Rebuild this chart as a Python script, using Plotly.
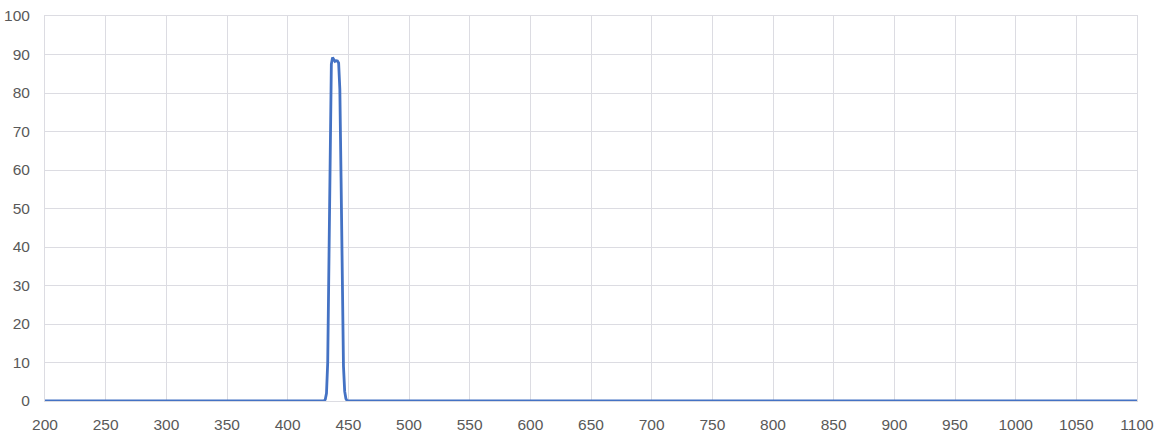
import plotly.graph_objects as go

# Transmission curve (nm vs %)
wavelength = [200, 300, 400, 428, 430, 431, 432, 433, 434, 435, 436, 437, 438, 439,
              440, 441, 442, 443, 444, 445, 446, 447, 448, 449, 451, 500, 700, 900, 1100]
transmission = [0, 0, 0, 0, 0, 0.4, 2, 10, 38, 74, 87.5, 89.2, 88.8, 88.2,
                88.4, 88.3, 87.8, 81, 58, 28, 9, 2.5, 0.6, 0.1, 0, 0, 0, 0, 0]

x_ticks = list(range(200, 1101, 50))
y_ticks = list(range(0, 101, 10))

fig = go.Figure()
fig.add_trace(go.Scatter(
    x=wavelength, y=transmission,
    mode="lines",
    line=dict(color="#4472C4", width=2.8),
    hoverinfo="x+y",
))

fig.update_layout(
    width=1160, height=436,
    margin=dict(l=45, r=23, t=16, b=35, autoexpand=False),
    paper_bgcolor="white",
    plot_bgcolor="white",
    showlegend=False,
    font=dict(family="Liberation Sans, Arial, sans-serif", size=15.5, color="#595959"),
    xaxis=dict(
        range=[200, 1100],
        tickvals=x_ticks,
        automargin=False,
        showgrid=True, gridcolor="#DCDCE2", gridwidth=1,
        zeroline=False,
        showline=True, linecolor="#DCDCE2", mirror=True,
        ticks="", ticklabelstandoff=9,
    ),
    yaxis=dict(
        range=[0, 100],
        tickvals=y_ticks,
        automargin=False,
        showgrid=True, gridcolor="#DCDCE2", gridwidth=1,
        zeroline=False,
        showline=True, linecolor="#DCDCE2", mirror=True,
        ticks="", ticklabelstandoff=11,
    ),
)

# drop the default 8px body margin so the figure fills the window
fig.write_html("out.html",
               config={"displayModeBar": False},
               post_script="document.body.style.margin='0';document.body.style.overflow='hidden';")
